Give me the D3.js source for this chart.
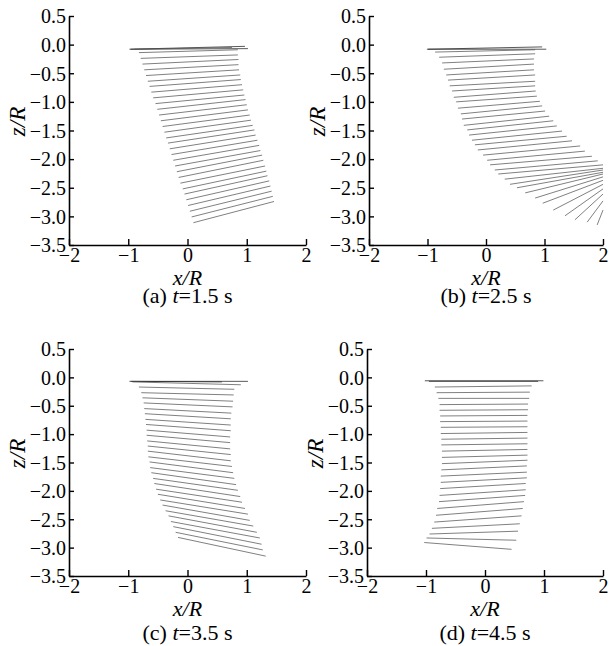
<!DOCTYPE html>
<html><head><meta charset="utf-8">
<script src="https://cdn.jsdelivr.net/npm/d3@7"></script>
<style>
body{margin:0;background:#fff;}
svg{display:block;font-family:"Liberation Serif","Times New Roman",serif;}
</style></head><body>
<svg id="c" width="610" height="646"></svg>
<script>
// ---- data (x/R, z/R of each segment's left and right ends) ----
const xTicks = [-2, -1, 0, 1, 2];
const zTicks = [0.5, 0.0, -0.5, -1.0, -1.5, -2.0, -2.5, -3.0, -3.5];
const captions = [["(a) ", "t", "=1.5 s"], ["(b) ", "t", "=2.5 s"], ["(c) ", "t", "=3.5 s"], ["(d) ", "t", "=4.5 s"]];

const aLeftX  = [-0.98,-0.96,-0.90,-0.82,-0.79,-0.76,-0.73,-0.70,-0.67,-0.64,-0.61,-0.58,-0.54,-0.51,-0.48,-0.45,-0.42,-0.39,-0.36,-0.33,-0.30,-0.27,-0.24,-0.21,-0.18,-0.15,-0.12,-0.08,-0.05,-0.02,0.01,0.04,0.07,0.10];
const aLeftZ  = [-0.08,-0.08,-0.08,-0.14,-0.24,-0.34,-0.44,-0.54,-0.64,-0.73,-0.83,-0.93,-1.03,-1.13,-1.23,-1.33,-1.43,-1.53,-1.63,-1.72,-1.82,-1.92,-2.02,-2.12,-2.22,-2.32,-2.42,-2.52,-2.61,-2.71,-2.81,-2.91,-3.01,-3.11];
const aRightX = [1.02,0.97,0.75,0.85,0.85,0.86,0.86,0.87,0.89,0.90,0.92,0.94,0.96,0.98,1.00,1.02,1.05,1.07,1.10,1.13,1.15,1.18,1.21,1.23,1.26,1.28,1.31,1.33,1.35,1.38,1.40,1.42,1.44,1.46];
const aRightZ = [-0.07,-0.03,-0.05,-0.09,-0.18,-0.26,-0.35,-0.44,-0.53,-0.61,-0.70,-0.79,-0.88,-0.96,-1.05,-1.14,-1.23,-1.32,-1.41,-1.49,-1.58,-1.67,-1.76,-1.85,-1.93,-2.02,-2.12,-2.21,-2.29,-2.38,-2.47,-2.56,-2.65,-2.74];

const bLeftX  = [-1.01,-0.99,-0.87,-0.80,-0.75,-0.72,-0.68,-0.65,-0.62,-0.58,-0.55,-0.51,-0.48,-0.43,-0.41,-0.38,-0.32,-0.29,-0.24,-0.19,-0.14,-0.05,0.02,0.07,0.15,0.21,0.32,0.41,0.53,0.67,0.84,0.97,1.15,1.35,1.52,1.73,1.90];
const bLeftZ  = [-0.08,-0.08,-0.13,-0.22,-0.32,-0.43,-0.53,-0.62,-0.72,-0.81,-0.92,-1.00,-1.11,-1.21,-1.30,-1.41,-1.49,-1.58,-1.67,-1.75,-1.84,-1.93,-2.02,-2.10,-2.19,-2.26,-2.35,-2.44,-2.50,-2.59,-2.68,-2.77,-2.89,-2.99,-3.06,-3.10,-3.15];
const bRightX = [1.03,0.96,0.84,0.84,0.82,0.82,0.82,0.84,0.84,0.84,0.85,0.87,0.92,0.96,1.01,1.08,1.15,1.21,1.30,1.38,1.47,1.61,1.69,1.81,1.91,2.0,2.0,2.0,2.0,2.0,2.0,2.0,2.0,2.0,2.0,2.0,2.0];
const bRightZ = [-0.08,-0.04,-0.09,-0.16,-0.25,-0.34,-0.44,-0.53,-0.64,-0.72,-0.81,-0.90,-0.99,-1.07,-1.16,-1.25,-1.33,-1.42,-1.51,-1.60,-1.68,-1.77,-1.86,-1.95,-2.03,-2.10,-2.16,-2.19,-2.23,-2.26,-2.31,-2.37,-2.44,-2.52,-2.61,-2.73,-2.89];

const cLeftX  = [-0.98,-0.95,-0.93,-0.82,-0.78,-0.76,-0.74,-0.73,-0.72,-0.71,-0.70,-0.69,-0.69,-0.68,-0.67,-0.67,-0.66,-0.64,-0.63,-0.61,-0.58,-0.56,-0.53,-0.50,-0.46,-0.42,-0.37,-0.32,-0.28,-0.24,-0.20,-0.16];
const cLeftZ  = [-0.07,-0.07,-0.08,-0.17,-0.27,-0.36,-0.45,-0.55,-0.64,-0.74,-0.83,-0.93,-1.02,-1.12,-1.21,-1.30,-1.40,-1.49,-1.59,-1.68,-1.78,-1.87,-1.97,-2.06,-2.16,-2.25,-2.35,-2.44,-2.54,-2.63,-2.73,-2.82];
const cRightX = [1.02,0.58,0.90,0.79,0.78,0.77,0.76,0.74,0.73,0.73,0.73,0.72,0.72,0.72,0.73,0.73,0.75,0.77,0.79,0.82,0.85,0.89,0.92,0.97,1.02,1.05,1.11,1.17,1.22,1.25,1.27,1.32];
const cRightZ = [-0.07,-0.08,-0.13,-0.21,-0.31,-0.42,-0.52,-0.63,-0.73,-0.84,-0.94,-1.05,-1.15,-1.26,-1.36,-1.47,-1.57,-1.68,-1.78,-1.89,-1.99,-2.10,-2.20,-2.31,-2.41,-2.52,-2.62,-2.73,-2.83,-2.94,-3.04,-3.15];

const dLeftX  = [-1.02,-0.95,-0.85,-0.82,-0.79,-0.77,-0.77,-0.76,-0.76,-0.75,-0.75,-0.74,-0.74,-0.73,-0.73,-0.73,-0.74,-0.75,-0.75,-0.76,-0.77,-0.78,-0.81,-0.83,-0.86,-0.90,-0.94,-0.99,-1.03];
const dLeftZ  = [-0.06,-0.07,-0.17,-0.27,-0.37,-0.48,-0.58,-0.68,-0.78,-0.88,-0.99,-1.09,-1.19,-1.30,-1.41,-1.52,-1.63,-1.74,-1.85,-1.96,-2.08,-2.19,-2.31,-2.43,-2.55,-2.66,-2.76,-2.83,-2.91];
const dRightX = [0.99,0.90,0.79,0.76,0.75,0.73,0.73,0.72,0.72,0.72,0.72,0.72,0.72,0.72,0.72,0.72,0.71,0.71,0.71,0.69,0.69,0.68,0.66,0.64,0.62,0.59,0.56,0.53,0.45];
const dRightZ = [-0.06,-0.07,-0.15,-0.26,-0.37,-0.47,-0.57,-0.67,-0.77,-0.87,-0.97,-1.07,-1.17,-1.27,-1.37,-1.46,-1.56,-1.67,-1.77,-1.87,-1.98,-2.08,-2.19,-2.31,-2.44,-2.58,-2.71,-2.87,-3.03];

// ---- drawing ----
const svg = d3.select("#c");
const panels = [
  {lx:aLeftX, lz:aLeftZ, rx:aRightX, rz:aRightZ, left:69,  top:16,  w:237, h:229, capY:58, cap:captions[0]},
  {lx:bLeftX, lz:bLeftZ, rx:bRightX, rz:bRightZ, left:369, top:16,  w:234, h:229, capY:58, cap:captions[1]},
  {lx:cLeftX, lz:cLeftZ, rx:cRightX, rz:cRightZ, left:69,  top:349, w:237, h:227, capY:64, cap:captions[2]},
  {lx:dLeftX, lz:dLeftZ, rx:dRightX, rz:dRightZ, left:367, top:349, w:236, h:227, capY:64, cap:captions[3]}
];
const fam = '"Liberation Serif","Times New Roman",serif';

panels.forEach((p, pi) => {
  const g = svg.append("g").attr("transform", `translate(${p.left},${p.top})`);
  const x = d3.scaleLinear().domain([-2, 2]).range([0, p.w]);
  const y = d3.scaleLinear().domain([-3.5, 0.5]).range([p.h, 0]);

  const segs = p.lx.map((v, i) => ({x1: v, z1: p.lz[i], x2: p.rx[i], z2: p.rz[i], i}));
  g.append("g").selectAll("line").data(segs).join("line")
    .attr("x1", d => x(d.x1)).attr("y1", d => y(d.z1))
    .attr("x2", d => x(d.x2)).attr("y2", d => y(d.z2))
    .attr("stroke", d => d.i < 2 ? "#222" : "#555")
    .attr("stroke-width", 0.75);

  const xa = g.append("g").attr("transform", `translate(0,${p.h})`)
    .call(d3.axisBottom(x).tickValues(xTicks).tickFormat(d3.format("d")).tickSizeInner(-6).tickSizeOuter(0).tickPadding(3));
  const ya = g.append("g")
    .call(d3.axisLeft(y).tickValues(zTicks).tickFormat(d3.format(".1f")).tickSizeInner(-5).tickSizeOuter(0).tickPadding(3));
  [xa, ya].forEach(a => {
    a.select(".domain").attr("stroke", "#000").attr("stroke-width", 1.6);
    a.selectAll(".tick line").attr("stroke", "#000").attr("stroke-width", 1.4);
    a.selectAll("text").attr("font-family", fam).attr("font-size", 20).attr("fill", "#000");
  });
  xa.selectAll("text").attr("y", 17).attr("dy", 0);
  ya.selectAll("text").attr("dy", "0.34em");

  // axis titles
  g.append("text").attr("x", p.w / 2).attr("y", p.h + 40)
    .attr("text-anchor", "middle").attr("font-family", fam).attr("font-size", 22)
    .attr("font-style", "italic").text("x/R");
  g.append("text").attr("transform", `translate(${-44},${p.h / 2 - 9}) rotate(-90)`)
    .attr("text-anchor", "middle").attr("font-family", fam).attr("font-size", 23)
    .attr("font-style", "italic").text("z/R");

  const cap = g.append("text").attr("x", p.w / 2).attr("y", p.h + p.capY)
    .attr("text-anchor", "middle").attr("font-family", fam).attr("font-size", 22);
  cap.append("tspan").text(p.cap[0]);
  cap.append("tspan").attr("font-style", "italic").text(p.cap[1]);
  cap.append("tspan").text(p.cap[2]);
});
</script></body></html>
